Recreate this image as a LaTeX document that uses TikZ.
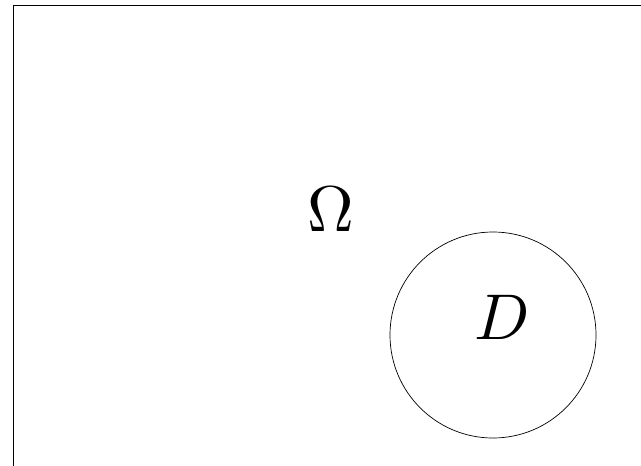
\documentclass[tikz,border=0pt]{standalone}
\usetikzlibrary{positioning}

\begin{document}
\begin{tikzpicture}[
  outerbox/.style={draw=black, line width=0.7pt},
  region/.style={circle, draw=black, line width=0.5pt, minimum size=51.5mm, inner sep=0pt},
  biglabel/.style={inner sep=0pt, scale=4.6}
]
  \useasboundingbox (0,0) rectangle (16.025,11.625);
  \clip (0,0) rectangle (16.025,11.625);

  % outer domain, cut off at right and bottom
  \draw[outerbox] (0.325,-2) rectangle (18,11.5);

  \node[region] (sub) at (12.325,3.25) {};
  \node[biglabel] (omega) at (8.275,6.4) {$\Omega$};
  \node[biglabel] (dlab) at (12.55,3.7) {$D$};
\end{tikzpicture}
\end{document}
